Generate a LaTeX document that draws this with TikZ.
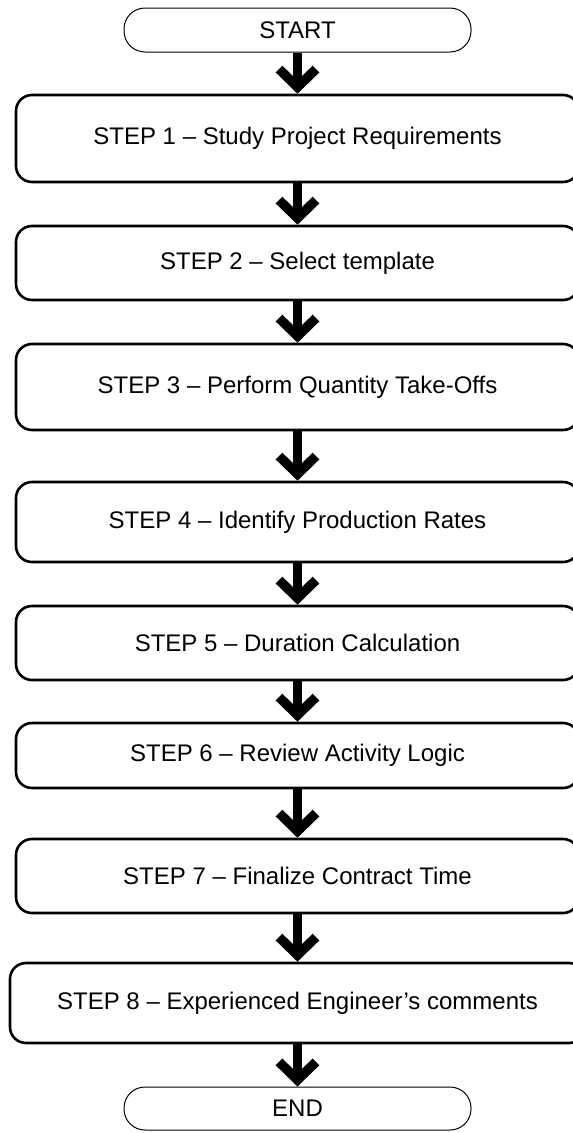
\documentclass[tikz,border=0pt]{standalone}
\usepackage{fontspec}
\setmainfont{Liberation Sans}
\usetikzlibrary{arrows.meta}
\newcommand{\fsz}[1]{\fontsize{#1}{#1}\selectfont}
\begin{document}
\begin{tikzpicture}[x=1pt,y=-1pt,
  stepbox/.style={draw, line width=2.6pt, rounded corners=16pt, minimum width=563pt, inner sep=0pt, fill=white, font=\fsz{24}},
  term/.style={draw, line width=1pt, rounded corners=21pt, minimum width=347pt, minimum height=44pt, inner sep=0pt, fill=white, font=\fsz{24}},
  flow/.style={line width=9.5pt, -{Straight Barb[length=18pt,width=37pt,line width=9.5pt]}}
]
\useasboundingbox (0,0) rectangle (573,1133);
\clip (0,0) rectangle (573,1133);
\fill[white] (0,0) rectangle (573,1133);
\node[term] (start) at (297.5,30) {START};
\node[stepbox, minimum height=87pt] (s1) at (297.5,138.5) {STEP 1 – Study Project Requirements};
\node[stepbox, minimum height=74pt] (s2) at (297.5,263) {STEP 2 – Select template};
\node[stepbox, minimum height=86pt] (s3) at (297.5,387) {STEP 3 – Perform Quantity Take-Offs};
\node[stepbox, minimum height=80pt] (s4) at (297.5,522) {STEP 4 – Identify Production Rates};
\node[stepbox, minimum height=74pt] (s5) at (297.5,643) {STEP 5 – Duration Calculation};
\node[stepbox, minimum height=65pt] (s6) at (297.5,755.5) {STEP 6 – Review Activity Logic};
\node[stepbox, minimum height=74pt] (s7) at (297.5,876) {STEP 7 – Finalize Contract Time};
\node[stepbox, minimum height=80pt, minimum width=575pt] (s8) at (297.5,1003) {STEP 8 – Experienced Engineer’s comments};
\node[term, minimum height=43pt] (end) at (297.5,1108.5) {END};
\draw[flow] (start.south) -- (s1.north);
\draw[flow] (s1.south) -- (s2.north);
\draw[flow] (s2.south) -- (s3.north);
\draw[flow] (s3.south) -- (s4.north);
\draw[flow] (s4.south) -- (s5.north);
\draw[flow] (s5.south) -- (s6.north);
\draw[flow] (s6.south) -- (s7.north);
\draw[flow] (s7.south) -- (s8.north);
\draw[flow] (s8.south) -- (end.north);
\end{tikzpicture}
\end{document}
